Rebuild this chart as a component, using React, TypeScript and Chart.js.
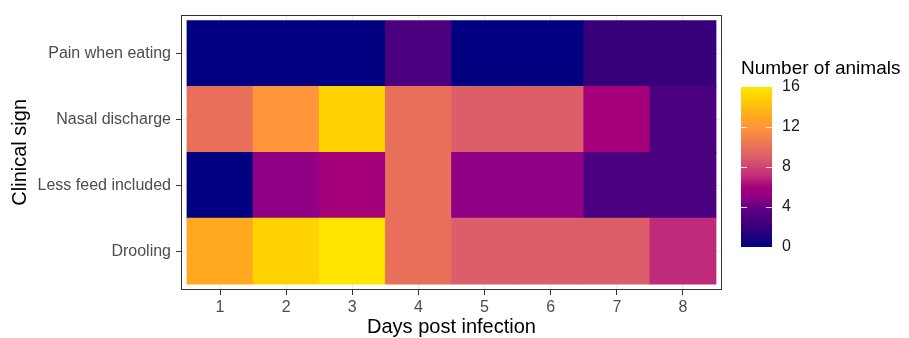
import { useEffect, useRef } from "react";
import { Chart, registerables } from "chart.js";
Chart.register(...registerables);

// Days post infection (x axis)
const days = [1, 2, 3, 4, 5, 6, 7, 8];
// Clinical signs, bottom to top
const signs = ["Drooling", "Less feed included", "Nasal discharge", "Pain when eating"];
// Number of animals per day
const drooling = [13, 15, 16, 10, 9, 9, 9, 7];
const lessFeed = [0, 5, 6, 10, 5, 5, 3, 3];
const nasal = [10, 12, 15, 10, 9, 9, 6, 3];
const pain = [0, 0, 0, 3, 0, 0, 2, 2];
const seriesValues = [drooling, lessFeed, nasal, pain];
// Colour bar
const legendTicks = [0, 4, 8, 12, 16];
const legendTitle = "Number of animals";
const colorMin = 0;
const colorMax = 16;
const colorStops: [number, [number, number, number]][] = [
  [0, [0, 0, 128]],
  [2, [55, 0, 122]],
  [3, [75, 0, 128]],
  [4, [100, 0, 132]],
  [5, [143, 0, 133]],
  [6, [165, 0, 122]],
  [7, [191, 42, 122]],
  [9, [220, 94, 106]],
  [10, [232, 112, 90]],
  [12, [255, 150, 60]],
  [13, [255, 168, 32]],
  [15, [255, 210, 0]],
  [16, [255, 230, 0]],
];

function colorFor(v: number): string {
  if (v <= colorStops[0][0]) {
    const c = colorStops[0][1];
    return `rgb(${c[0]},${c[1]},${c[2]})`;
  }
  for (let i = 1; i < colorStops.length; i++) {
    const [v1, c1] = colorStops[i];
    const [v0, c0] = colorStops[i - 1];
    if (v <= v1) {
      const t = (v - v0) / (v1 - v0);
      const r = Math.round(c0[0] + (c1[0] - c0[0]) * t);
      const g = Math.round(c0[1] + (c1[1] - c0[1]) * t);
      const b = Math.round(c0[2] + (c1[2] - c0[2]) * t);
      return `rgb(${r},${g},${b})`;
    }
  }
  const c = colorStops[colorStops.length - 1][1];
  return `rgb(${c[0]},${c[1]},${c[2]})`;
}

const FONT = "'Liberation Sans', Arial, Helvetica, sans-serif";

const panelBox = {
  id: "panelBox",
  afterDraw(chart: any) {
    const { ctx, chartArea } = chart;
    ctx.save();
    ctx.strokeStyle = "#333333";
    ctx.lineWidth = 1;
    ctx.strokeRect(
      Math.round(chartArea.left) + 0.5,
      Math.round(chartArea.top) + 0.5,
      Math.round(chartArea.right - chartArea.left) - 1,
      Math.round(chartArea.bottom - chartArea.top) - 1
    );
    ctx.restore();
  },
};

const colorBar = {
  id: "colorBar",
  afterDraw(chart: any) {
    const { ctx, chartArea } = chart;
    const barLeft = chartArea.right + 19;
    const barW = 31;
    const barTop = 87;
    const barBottom = 247;
    const toY = (v: number) =>
      barBottom - ((v - colorMin) / (colorMax - colorMin)) * (barBottom - barTop);
    ctx.save();
    const grad = ctx.createLinearGradient(0, barBottom, 0, barTop);
    colorStops.forEach(([v]) => {
      grad.addColorStop((v - colorMin) / (colorMax - colorMin), colorFor(v));
    });
    ctx.fillStyle = grad;
    ctx.fillRect(barLeft, barTop, barW, barBottom - barTop);
    // ticks
    ctx.strokeStyle = "rgba(255,255,255,0.85)";
    ctx.lineWidth = 1;
    legendTicks.forEach((v) => {
      if (v === colorMin || v === colorMax) return;
      const y = Math.round(toY(v)) + 0.5;
      ctx.beginPath();
      ctx.moveTo(barLeft, y);
      ctx.lineTo(barLeft + 6, y);
      ctx.moveTo(barLeft + barW - 6, y);
      ctx.lineTo(barLeft + barW, y);
      ctx.stroke();
    });
    // labels
    ctx.fillStyle = "#1a1a1a";
    ctx.font = `16px ${FONT}`;
    ctx.textAlign = "left";
    ctx.textBaseline = "middle";
    legendTicks.forEach((v) => {
      ctx.fillText(String(v), barLeft + barW + 10, toY(v));
    });
    // title
    ctx.fillStyle = "#000000";
    ctx.font = `19px ${FONT}`;
    ctx.textBaseline = "alphabetic";
    ctx.fillText(legendTitle, barLeft, 74);
    ctx.restore();
  },
};

export default function App() {
  const ref = useRef<HTMLCanvasElement | null>(null);
  useEffect(() => {
    if (!ref.current) return;
    const datasets = signs.map((s, si) => ({
      label: s,
      data: days.map((d, i) => ({ x: d, y: 1, v: seriesValues[si][i] })),
      backgroundColor: (c: any) => colorFor(c.raw ? c.raw.v : 0),
      borderWidth: 0,
      barPercentage: 1,
      categoryPercentage: 1,
    }));
    const chart = new Chart(ref.current, {
      type: "bar",
      data: { datasets: datasets as any },
      plugins: [panelBox, colorBar],
      options: {
        animation: false,
        responsive: false,
        layout: { padding: { left: 0, top: 13, right: 187, bottom: 0 } },
        plugins: { legend: { display: false }, tooltip: { enabled: false } },
        scales: {
          x: {
            type: "linear",
            stacked: true,
            offset: false,
            min: 0.41,
            max: 8.59,
            afterBuildTicks: (scale: any) => {
              scale.ticks = days.map((d) => ({ value: d }));
            },
            afterFit: (scale: any) => {
              scale.height = 48;
            },
            grid: {
              offset: false,
              color: "#EBEBEB",
              tickColor: "#333333",
              tickLength: 5,
              lineWidth: 1,
            },
            border: { display: false },
            ticks: {
              font: { family: FONT, size: 16 },
              color: "#4D4D4D",
              padding: 3,
              callback: (v: any) => String(v),
            },
            title: {
              display: true,
              text: "Days post infection",
              font: { family: FONT, size: 20, lineHeight: 1.1 },
              color: "#000000",
              padding: { top: 0, bottom: 0 },
            },
          },
          y: {
            type: "linear",
            stacked: true,
            offset: false,
            min: -0.09,
            max: 4.09,
            afterBuildTicks: (scale: any) => {
              scale.ticks = signs.map((_, i) => ({ value: i + 0.5 }));
            },
            afterFit: (scale: any) => {
              scale.width = 181;
            },
            grid: {
              offset: false,
              color: "#EBEBEB",
              tickColor: "#333333",
              tickLength: 5,
              lineWidth: 1,
            },
            border: { display: false },
            ticks: {
              font: { family: FONT, size: 16 },
              color: "#4D4D4D",
              padding: 5,
              callback: (v: any) => signs[Math.round(Number(v) - 0.5)] ?? "",
            },
            title: {
              display: true,
              text: "Clinical sign",
              font: { family: FONT, size: 20, lineHeight: 1.2 },
              color: "#000000",
              padding: { top: 8, bottom: 0 },
            },
          },
        },
      } as any,
    });
    return () => chart.destroy();
  }, []);
  return (
    <div style={{ position: "absolute", left: 0, top: 0, width: 909, height: 338 }}>
      <canvas ref={ref} width={909} height={338} style={{ display: "block" }} />
    </div>
  );
}
